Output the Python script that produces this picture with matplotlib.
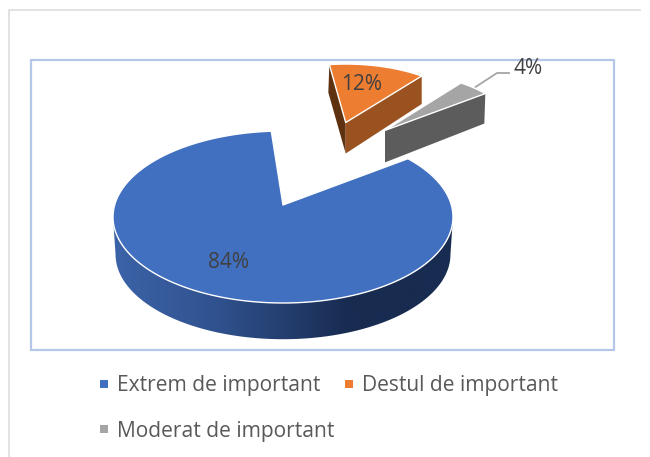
import numpy as np
import matplotlib
matplotlib.use("Agg")
import matplotlib.pyplot as plt
from matplotlib.colors import LinearSegmentedColormap
from matplotlib.patches import Polygon, Rectangle

# ---- data ----
categories = ["Extrem de important", "Destul de important", "Moderat de important"]
values = [84, 12, 4]

# ---- look of the 3d pie (pixels, y pointing down) ----
FONT = "Open Sans"
TEXT = "#404040"
TOP_COLORS = ["#4270C0", "#ED7D31", "#A5A5A5"]
CENTERS = [(283, 217), (345.7, 132), (385, 140)]
SCALES = [1.0, 0.79, 0.80]
APEX_LIFT = 12          # perspective: apex sits above ellipse centre
A, B = 170, 86
T0 = 42.7               # where the first slice starts (ellipse angle)
NUDGE = [0, -3.3, -1.1]
STRETCH = [1.021, 0.96, 0.94]


def ellipse(center, scale, t):
    t = np.radians(t)
    return np.column_stack([center[0] + A * scale * np.cos(t),
                            center[1] - B * scale * np.sin(t)])


fig = plt.figure(figsize=(6.5, 4.57), dpi=100)
ax = fig.add_axes([0, 0, 1, 1])
ax.axis("off")

# frames
ax.plot([9, 9, 640], [457, 10, 10], color="#DDDDDD", lw=1.2, zorder=1)
ax.add_patch(Rectangle((31, 60), 583, 290, fill=False, ec="#B4C7E7", lw=1.6, zorder=1))

# slice angles come from the values
shares = np.array(values) / sum(values) * 360
cum = np.concatenate([[0], np.cumsum(shares)[:-1]])
arcs = []
for i in range(len(values)):
    start = T0 - cum[i] + NUDGE[i]
    stop = start - shares[i] * STRETCH[i]
    t = np.linspace(start, stop, 200)
    apex = (CENTERS[i][0], CENTERS[i][1] - APEX_LIFT * SCALES[i])
    arcs.append((t, apex, ellipse(CENTERS[i], SCALES[i], t)))

# blue wall, gradient clipped to the rim
t_low = np.linspace(0, -180, 200)
upper = ellipse(CENTERS[0], SCALES[0], t_low)
lower = ellipse((283, 254.5), 0.985, t_low)
wall = Polygon(np.vstack([upper, lower[::-1]]), closed=True, fc="none", ec="none", zorder=2)
ax.add_patch(wall)
cmap = LinearSegmentedColormap.from_list(
    "rim", [(0, "#3C63A8"), (0.3, "#30528F"), (0.7, "#182B50"), (1, "#182B50")])
im = ax.imshow(np.linspace(0, 1, 256).reshape(1, -1), extent=(113, 453, 342, 218),
               cmap=cmap, aspect="auto", zorder=2)
im.set_clip_path(wall)

# orange and grey walls
t, apex, pts = arcs[1]
ax.add_patch(Polygon([pts[0], apex, (apex[0], apex[1] + 31), (pts[0][0] - 1, pts[0][1] + 28)],
                     fc="#5E3210", ec="none", zorder=2))
ax.add_patch(Polygon([apex, pts[-1], (pts[-1][0], pts[-1][1] + 28), (apex[0], apex[1] + 31)],
                     fc="#9A5220", ec="none", zorder=2))
t, apex, pts = arcs[2]
ax.add_patch(Polygon([apex, pts[-1], (pts[-1][0] - 1, pts[-1][1] + 30), (apex[0], apex[1] + 32)],
                     fc="#5C5C5C", ec="none", zorder=2))

# tops
for i, (t, apex, pts) in enumerate(arcs):
    ax.add_patch(Polygon(np.vstack([[apex], pts]), closed=True, fc=TOP_COLORS[i],
                         ec="white", lw=1.0, joinstyle="round", zorder=3))

# leader line of the smallest slice
ax.plot([475.5, 497, 509], [87, 73, 73], color="#A6A6A6", lw=1.3, zorder=2)

# data labels
label_pos = [(228.5, 262), (362, 85), (528, 68)]
for v, (x, y) in zip(values, label_pos):
    ax.text(x, y, f"{v}%", ha="center", va="center", fontsize=15, color=TEXT,
            family=FONT, zorder=5)

# legend
legend_pos = [(100, 384), (345, 384), (100, 429)]
for name, c, (x, y) in zip(categories, TOP_COLORS, legend_pos):
    ax.add_patch(Rectangle((x, y - 4), 7.5, 8, fc=c, ec="none", zorder=4))
    ax.text(x + 17, y + 2, name, ha="left", va="center", fontsize=15.1, color="#595959",
            family=FONT, zorder=5)

ax.set_xlim(0, 650)
ax.set_ylim(457, 0)
fig.savefig("out.png", dpi=100, facecolor="white")
